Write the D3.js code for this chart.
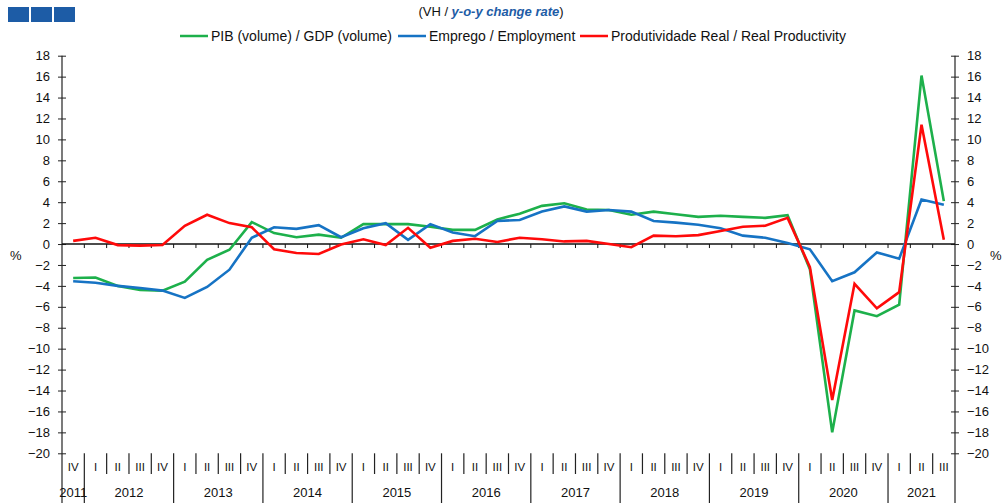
<!DOCTYPE html>
<html><head><meta charset="utf-8">
<script src="https://cdn.jsdelivr.net/npm/d3@7"></script>
<style>
body{margin:0;background:#fff;}
svg text{font-family:"Liberation Sans",Arial,sans-serif;}
</style></head>
<body><svg id="c" width="1005" height="504"></svg>
<script>
const quarterLabels = ["IV",
 "I","II","III","IV","I","II","III","IV","I","II","III","IV","I","II","III","IV",
 "I","II","III","IV","I","II","III","IV","I","II","III","IV","I","II","III","IV",
 "I","II","III","IV","I","II","III"];
const years = ["2011","2012","2013","2014","2015","2016","2017","2018","2019","2020","2021"];
const yearQuarterCounts = [1,4,4,4,4,4,4,4,4,4,3];
const gdp = [-3.25,-3.2,-4.0,-4.4,-4.45,-3.6,-1.5,-0.55,2.1,1.05,0.65,0.9,0.6,1.9,1.9,1.9,1.65,1.35,1.35,2.35,2.9,3.65,3.9,3.3,3.25,2.8,3.1,2.85,2.6,2.7,2.6,2.5,2.75,-2.4,-18.0,-6.35,-6.9,-5.8,16.1,4.1];
const employment = [-3.55,-3.7,-4.0,-4.2,-4.45,-5.15,-4.1,-2.45,0.6,1.6,1.45,1.8,0.65,1.5,2.0,0.4,1.9,1.1,0.75,2.2,2.3,3.1,3.6,3.1,3.25,3.1,2.2,2.05,1.85,1.5,0.8,0.6,0.1,-0.5,-3.55,-2.7,-0.8,-1.4,4.25,3.75];
const productivity = [0.3,0.6,-0.1,-0.15,-0.1,1.75,2.8,2.0,1.6,-0.5,-0.85,-0.95,-0.05,0.45,-0.1,1.55,-0.35,0.3,0.5,0.2,0.6,0.45,0.25,0.3,0.0,-0.3,0.8,0.75,0.85,1.25,1.65,1.75,2.5,-2.2,-14.9,-3.8,-6.15,-4.6,11.4,0.4];
const yTicks = d3.range(-20, 19, 2);
const seriesNames = ["PIB (volume) / GDP (volume)","Emprego / Employment","Produtividade Real / Real Productivity"];
const seriesColors = ["#1db04b","#1673c4","#ff0a0a"];

const svg = d3.select("#c");
const L = 62, R = 955, T = 55.7, B = 453.3;
const x = d3.scaleBand().domain(d3.range(quarterLabels.length)).range([L, R]).padding(0);
const y = d3.scaleLinear().domain([-20, 18]).range([B, T]);

// top-left squares
[8, 31, 54].forEach(px => svg.append("rect").attr("x", px).attr("y", 7).attr("width", 21).attr("height", 15).attr("fill", "#1d5ca6"));

// title
const title = svg.append("text").attr("x", 491).attr("y", 16).attr("text-anchor", "middle").attr("font-size", 13).attr("fill", "#111");
title.append("tspan").text("(VH / ");
title.append("tspan").attr("fill", "#1d5ca6").attr("font-weight", "bold").attr("font-style", "italic").text("y-o-y change rate");
title.append("tspan").text(")");

// legend
const legX = [180, 398, 580];
seriesNames.forEach((n, i) => {
  svg.append("line").attr("x1", legX[i]).attr("x2", legX[i] + 28).attr("y1", 36).attr("y2", 36).attr("stroke", seriesColors[i]).attr("stroke-width", 2.5);
  svg.append("text").attr("x", legX[i] + 31).attr("y", 41).attr("font-size", 14).attr("fill", "#111").text(n);
});

// left axis
const gl = svg.append("g").attr("transform", `translate(${L},0)`)
  .call(d3.axisLeft(y).tickValues(yTicks).tickSize(4).tickSizeOuter(0).tickPadding(8));
gl.select(".domain").remove();
gl.selectAll(".tick line").attr("x1", -4).attr("x2", 4).attr("stroke", "#222");
gl.selectAll(".tick text").attr("font-size", 13).attr("fill", "#111").attr("font-family", "Liberation Sans, Arial, sans-serif");
svg.append("line").attr("x1", L).attr("x2", L).attr("y1", T).attr("y2", 503).attr("stroke", "#222").attr("stroke-width", 1.2);

// right axis
const gr = svg.append("g").attr("transform", `translate(${R},0)`)
  .call(d3.axisRight(y).tickValues(yTicks).tickSize(4).tickSizeOuter(0).tickPadding(8));
gr.select(".domain").remove();
gr.selectAll(".tick line").attr("x1", -4).attr("x2", 4).attr("stroke", "#222");
gr.selectAll(".tick text").attr("font-size", 13).attr("fill", "#111").attr("font-family", "Liberation Sans, Arial, sans-serif");
svg.append("line").attr("x1", R).attr("x2", R).attr("y1", T).attr("y2", 503).attr("stroke", "#222").attr("stroke-width", 1.2);

// % labels
svg.append("text").attr("x", 10).attr("y", 260).attr("font-size", 13).attr("fill", "#111").text("%");
svg.append("text").attr("x", 990).attr("y", 260).attr("font-size", 13).attr("fill", "#111").text("%");

// zero line with ticks
svg.append("line").attr("x1", L).attr("x2", R).attr("y1", y(0)).attr("y2", y(0)).attr("stroke", "#111").attr("stroke-width", 1.5);
d3.range(1, quarterLabels.length).forEach(i => {
  svg.append("line").attr("x1", x(i)).attr("x2", x(i)).attr("y1", y(0)).attr("y2", y(0) + 4).attr("stroke", "#111");
});

// category axis at the bottom
let yearStart = 0;
const yearStarts = [];
yearQuarterCounts.forEach(c => { yearStarts.push(yearStart); yearStart += c; });
const yearBoundaries = new Set(yearStarts);
d3.range(1, quarterLabels.length).forEach(i => {
  const isYear = yearBoundaries.has(i);
  svg.append("line").attr("x1", x(i)).attr("x2", x(i)).attr("y1", B).attr("y2", isYear ? 503 : 474).attr("stroke", "#222").attr("stroke-width", 1.2);
});
quarterLabels.forEach((q, i) => {
  svg.append("text").attr("x", x(i) + x.bandwidth() / 2).attr("y", 471).attr("text-anchor", "middle").attr("font-size", 11.5).attr("fill", "#111").text(q);
});
years.forEach((yr, k) => {
  const s = yearStarts[k], e = s + yearQuarterCounts[k];
  const cx = (x(s) + x(e - 1) + x.bandwidth()) / 2;
  svg.append("text").attr("x", cx).attr("y", 497).attr("text-anchor", "middle").attr("font-size", 13).attr("fill", "#111").text(yr);
});

// series lines
const line = d3.line().x((d, i) => x(i) + x.bandwidth() / 2).y(d => y(d));
[gdp, employment, productivity].forEach((s, i) => {
  svg.append("path").datum(s).attr("d", line).attr("fill", "none").attr("stroke", seriesColors[i]).attr("stroke-width", 2.6).attr("stroke-linejoin", "miter");
});
</script></body></html>
